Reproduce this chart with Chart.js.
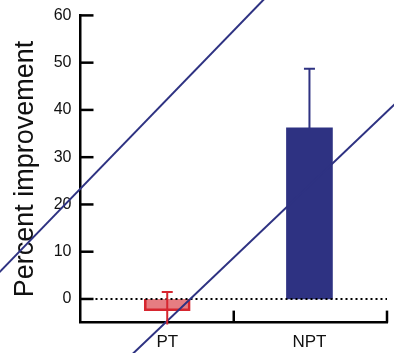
<!DOCTYPE html>
<html lang="en">
<head>
  <meta charset="UTF-8">
  <title>Percent improvement</title>
  <script src="https://cdn.jsdelivr.net/npm/chart.js"></script>
  <style>
    body { margin: 0; background: #fff; }
    #wrap { width: 394px; height: 353px; }
  </style>
</head>
<body>
  <div id="wrap"><canvas id="chart"></canvas></div>
  <script>
    // data
    const groups = ["PT", "NPT"];
    const groupPos = [0.283, 0.747];   // where each group sits along the x axis (0..1)
    const improvement = [-2.5, 36.2];
    const errUp = [1.5, 48.7];
    const errDown = [-5.4, null];
    const yTicks = [0, 10, 20, 30, 40, 50, 60];
    const xDividers = [0.5, 1];

    // the two diagonal lines (x on the 0..1 axis, y in percent)
    const diagA = [{ x: -0.27, y: 5.3 }, { x: 0.6, y: 63.5 }];
    const diagB = [{ x: 0.164, y: -12 }, { x: 1.03, y: 41.5 }];
    const zeroLine = [{ x: 0, y: 0 }, { x: 1, y: 0 }];

    const navy = "#2e3282";
    const red = "#d6262f";

    // inward tick marks + error bars
    const extras = {
      id: "extras",
      afterDatasetsDraw(chart) {
        const ctx = chart.ctx;
        const y = chart.scales.y;
        const x = chart.scales.x;
        ctx.save();
        ctx.strokeStyle = "#000";
        ctx.lineWidth = 2.5;
        yTicks.forEach(t => {
          const py = y.getPixelForValue(t);
          ctx.beginPath();
          ctx.moveTo(x.left, py);
          ctx.lineTo(x.left + 13, py);
          ctx.stroke();
        });
        xDividers.forEach(v => {
          const px = x.getPixelForValue(v);
          ctx.beginPath();
          ctx.moveTo(px, y.bottom);
          ctx.lineTo(px, y.bottom - 12);
          ctx.stroke();
        });
        const colors = [red, navy];
        groups.forEach((g, i) => {
          const px = x.getPixelForValue(groupPos[i]);
          ctx.strokeStyle = colors[i];
          ctx.lineWidth = 2;
          const top = y.getPixelForValue(errUp[i]);
          const bot = errDown[i] === null ? y.getPixelForValue(improvement[i]) : y.getPixelForValue(errDown[i]);
          ctx.beginPath();
          ctx.moveTo(px, top);
          ctx.lineTo(px, bot);
          ctx.moveTo(px - 5.5, top);
          ctx.lineTo(px + 5.5, top);
          ctx.stroke();
        });
        ctx.restore();
      }
    };

    new Chart(document.getElementById("chart"), {
      data: {
        datasets: [
          {
            type: "bar",
            data: groups.map((g, i) => ({ x: groupPos[i], y: improvement[i] })),
            backgroundColor: ["rgba(214,38,47,0.6)", navy],
            borderColor: [red, navy],
            borderWidth: [2, 0],
            barThickness: 46,
            grouped: false,
            order: 3
          },
          {
            type: "line",
            data: zeroLine,
            borderColor: "#000",
            borderWidth: 2,
            borderDash: [2, 3],
            pointRadius: 0,
            order: 2
          },
          {
            type: "line",
            data: diagA,
            borderColor: navy,
            borderWidth: 2,
            pointRadius: 0,
            clip: false,
            order: 1
          },
          {
            type: "line",
            data: diagB,
            borderColor: navy,
            borderWidth: 2,
            pointRadius: 0,
            clip: false,
            order: 1
          }
        ]
      },
      options: {
        responsive: true,
        maintainAspectRatio: false,
        animation: false,
        layout: { padding: { left: 11, right: 7, top: 0, bottom: -10 } },
        plugins: { legend: { display: false }, tooltip: { enabled: false } },
        scales: {
          x: {
            type: "linear",
            min: 0,
            max: 1,
            offset: false,
            afterBuildTicks: s => { s.ticks = groupPos.map(v => ({ value: v })); },
            grid: { display: false, drawTicks: false, offset: false },
            border: { display: true, color: "#000", width: 2.5 },
            ticks: {
              color: "#111",
              font: { family: "Liberation Sans", size: 17 },
              padding: 10,
              callback: (v, i) => groups[i]
            }
          },
          y: {
            min: -5,
            max: 60,
            afterBuildTicks: s => { s.ticks = yTicks.map(v => ({ value: v })); },
            grid: { display: false, drawTicks: false },
            border: { display: true, color: "#000", width: 2.5 },
            ticks: { color: "#111", font: { family: "Liberation Sans", size: 16, lineHeight: 0.8 }, padding: 9 },
            title: {
              display: true,
              text: "Percent improvement",
              color: "#111",
              font: { family: "Liberation Sans", size: 27, lineHeight: 1.1 },
              padding: { top: 0, bottom: 4 }
            }
          }
        }
      },
      plugins: [extras]
    });
  </script>
</body>
</html>
